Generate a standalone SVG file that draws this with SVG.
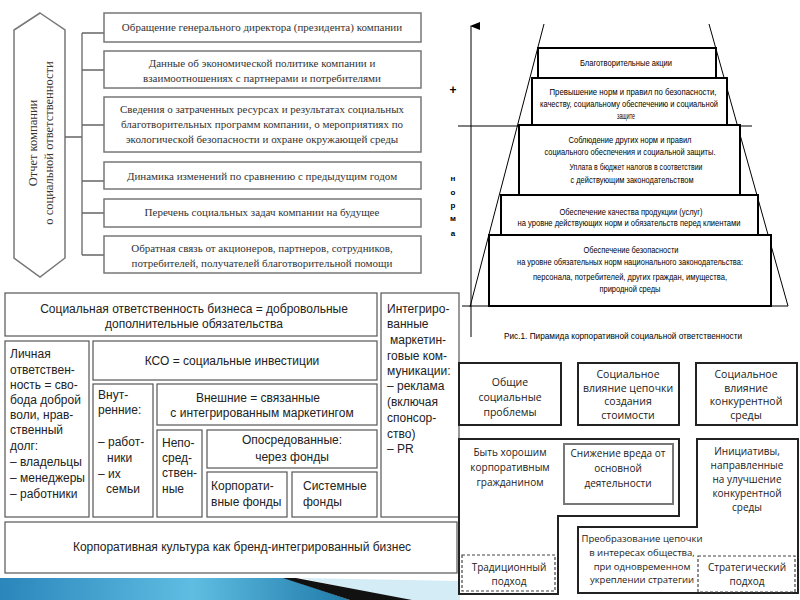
<svg xmlns="http://www.w3.org/2000/svg" width="800" height="600" viewBox="0 0 800 600">
<style>
.tl{fill:#fff;stroke:#777;stroke-width:1.5}
.tlt{font-family:"Liberation Serif",serif;font-size:11px;fill:#333;text-anchor:middle}
.hx{font-family:"Liberation Serif",serif;font-size:12.5px;fill:#333;text-anchor:middle}
.con{fill:none;stroke:#666;stroke-width:1.3}
.ml{fill:#fff;stroke:#555;stroke-width:1.2}
.mlt{font-family:"Liberation Sans",Arial,sans-serif;font-size:12px;fill:#222}
.mc{text-anchor:middle}
.py{fill:#fff;stroke:#000;stroke-width:2}
.pyl{fill:none;stroke:#000;stroke-width:1}
.pyt{font-family:"Liberation Sans",Arial,sans-serif;font-size:8.5px;fill:#000;text-anchor:middle}
.ax{font-family:"Liberation Sans",Arial,sans-serif;font-size:8px;font-weight:bold;fill:#000;text-anchor:middle}
.br{fill:#fff;stroke:#222;stroke-width:2}
.brt{font-family:"Open Sans","Noto Sans",sans-serif;font-size:10px;fill:#222;text-anchor:middle}
.big{font-size:10.5px}
.sm{font-size:9.5px}
.dash{fill:none;stroke:#444;stroke-width:1.2;stroke-dasharray:3,2}
</style>
<defs>
<marker id="arr" markerWidth="8" markerHeight="10" refX="4" refY="1" orient="auto" markerUnits="userSpaceOnUse">
<path d="M0,10 L4,0 L8,10 Z" fill="#000"/>
</marker>
<linearGradient id="sw" x1="0" y1="0" x2="1" y2="0">
<stop offset="0" stop-color="#2a86bb"/>
<stop offset="0.55" stop-color="#5fbde2"/>
<stop offset="1" stop-color="#1f7aa8"/>
</linearGradient>
</defs>
<rect width="800" height="600" fill="#fff"/>

<!-- Top-left: report structure -->
<g id="hexagon">
<polygon class="tl" points="40,13 65,30 65,258 40,277 14,258 14,30"/>
<text class="hx" transform="rotate(-90 36.5 143)" x="36.5" y="143">Отчет компании</text>
<text class="hx" transform="rotate(-90 52.5 143)" x="52.5" y="143">о социальной ответственности</text>
</g>
<g id="connectors-report">
<path class="con" d="M65,137 H82 M82,33 V255 M82,33 H104 M82,70 H104 M82,125 H104 M82,181 H104 M82,213 H104 M82,255 H104"/>
</g>
<g id="r1"><rect class="tl" x="104" y="13" width="317" height="29"/>
<text class="tlt" x="262" y="31">Обращение генерального директора (президента) компании</text></g>
<g id="r2"><rect class="tl" x="104" y="51" width="317" height="37"/>
<text class="tlt" x="262" y="67">Данные об экономической политике компании и</text>
<text class="tlt" x="262" y="82">взаимоотношениях с партнерами и потребителями</text></g>
<g id="r3"><rect class="tl" x="104" y="97" width="317" height="55"/>
<text class="tlt" x="262" y="113">Сведения о затраченных ресурсах и результатах социальных</text>
<text class="tlt" x="262" y="128">благотворительных программ компании, о мероприятиях по</text>
<text class="tlt" x="262" y="143">экологической безопасности и охране окружающей среды</text></g>
<g id="r4"><rect class="tl" x="104" y="162" width="317" height="27"/>
<text class="tlt" x="262" y="180">Динамика изменений по сравнению с предыдущим годом</text></g>
<g id="r5"><rect class="tl" x="104" y="199" width="317" height="28"/>
<text class="tlt" x="262" y="216">Перечень социальных задач компании на будущее</text></g>
<g id="r6"><rect class="tl" x="104" y="236" width="317" height="37"/>
<text class="tlt" x="262" y="252">Обратная связь от акционеров, партнеров, сотрудников,</text>
<text class="tlt" x="262" y="267">потребителей, получателей благотворительной помощи</text></g>

<!-- Top-right: pyramid -->
<g id="pyramid-axes">
<line class="pyl" x1="471" y1="337" x2="471" y2="26" marker-end="url(#arr)"/>
<line class="pyl" x1="458" y1="126" x2="752" y2="126" stroke-width="1.3"/>
<line class="pyl" x1="462" y1="306" x2="788" y2="306" stroke-width="1.3"/>
<line class="pyl" x1="544" y1="24" x2="470" y2="307"/>
<line class="pyl" x1="709" y1="24" x2="788" y2="306"/>
<text class="ax" x="453" y="94" style="font-size:12px">+</text>
<text class="ax" x="453" y="181">н</text>
<text class="ax" x="453" y="195">о</text>
<text class="ax" x="453" y="208">р</text>
<text class="ax" x="453" y="221">м</text>
<text class="ax" x="453" y="236">а</text>
</g>
<g id="p5"><rect class="py" x="489" y="235" width="282" height="71"/>
<text class="pyt" x="631" y="253" textLength="95" lengthAdjust="spacingAndGlyphs">Обеспечение безопасности</text>
<text class="pyt" x="630" y="265" textLength="226" lengthAdjust="spacingAndGlyphs">на уровне обязательных норм национального законодательства:</text>
<text class="pyt" x="630" y="280" textLength="194" lengthAdjust="spacingAndGlyphs">персонала, потребителей, других граждан, имущества,</text>
<text class="pyt" x="630" y="292" textLength="61" lengthAdjust="spacingAndGlyphs">природной среды</text></g>
<g id="p4"><rect class="py" x="501" y="195" width="257" height="40"/>
<text class="pyt" x="631" y="215" textLength="143" lengthAdjust="spacingAndGlyphs">Обеспечение качества продукции (услуг)</text>
<text class="pyt" x="629" y="226" textLength="223" lengthAdjust="spacingAndGlyphs">на уровне действующих норм и обязательств перед клиентами</text></g>
<g id="p3"><rect class="py" x="519" y="125" width="221" height="70"/>
<text class="pyt" x="630" y="143" textLength="123" lengthAdjust="spacingAndGlyphs">Соблюдение других норм и правил</text>
<text class="pyt" x="630" y="155" textLength="171" lengthAdjust="spacingAndGlyphs">социального обеспечения и социальной защиты.</text>
<text class="pyt" x="636" y="170" textLength="133" lengthAdjust="spacingAndGlyphs">Уплата в бюджет налогов в соответствии</text>
<text class="pyt" x="632" y="183" textLength="123" lengthAdjust="spacingAndGlyphs">с действующим законодательством</text></g>
<g id="p2"><rect class="py" x="532" y="78" width="195" height="47"/>
<text class="pyt" x="633" y="95" textLength="167" lengthAdjust="spacingAndGlyphs">Превышение норм и правил по безопасности,</text>
<text class="pyt" x="629" y="107" textLength="178" lengthAdjust="spacingAndGlyphs">качеству, социальному обеспечению и социальной</text>
<text class="pyt" x="626" y="119" textLength="18" lengthAdjust="spacingAndGlyphs">защите</text></g>
<g id="p1"><rect class="py" x="538" y="48" width="178" height="30"/>
<text class="pyt" x="626" y="66" textLength="92" lengthAdjust="spacingAndGlyphs">Благотворительные акции</text></g>
<text class="pyt" x="623" y="339" style="font-size:9.5px" textLength="238" lengthAdjust="spacingAndGlyphs">Рис.1. Пирамида корпоративной социальной ответственности</text>

<!-- Middle-left: CSR structure -->
<g id="m-top"><rect class="ml" x="5" y="293" width="372" height="43"/>
<text class="mlt mc" x="194" y="313">Социальная ответственность бизнеса = добровольные</text>
<text class="mlt mc" x="194" y="328">дополнительные обязательства</text></g>
<g id="m-personal"><rect class="ml" x="5" y="341" width="84" height="176"/>
<text class="mlt" x="10" y="358">Личная</text>
<text class="mlt" x="10" y="374">ответствен-</text>
<text class="mlt" x="10" y="389">ность = сво-</text>
<text class="mlt" x="10" y="404">бода доброй</text>
<text class="mlt" x="10" y="419">воли, нрав-</text>
<text class="mlt" x="10" y="434">ственный</text>
<text class="mlt" x="10" y="450">долг:</text>
<text class="mlt" x="10" y="466">– владельцы</text>
<text class="mlt" x="10" y="482">– менеджеры</text>
<text class="mlt" x="10" y="498">– работники</text></g>
<g id="m-kso"><rect class="ml" x="93" y="341" width="284" height="39"/>
<text class="mlt mc" x="232" y="365">КСО = социальные инвестиции</text></g>
<g id="m-internal"><rect class="ml" x="93" y="384" width="60" height="133"/>
<text class="mlt" x="98" y="399">Внут-</text>
<text class="mlt" x="98" y="414">ренние:</text>
<text class="mlt" x="98" y="446">– работ-</text>
<text class="mlt" x="107" y="462">ники</text>
<text class="mlt" x="98" y="478">– их</text>
<text class="mlt" x="106" y="493">семьи</text></g>
<g id="m-external"><rect class="ml" x="157" y="384" width="220" height="41"/>
<text class="mlt mc" x="258" y="402">Внешние = связанные</text>
<text class="mlt mc" x="262" y="417">с интегрированным маркетингом</text></g>
<g id="m-direct"><rect class="ml" x="157" y="430" width="45" height="87"/>
<text class="mlt" x="162" y="447">Непо-</text>
<text class="mlt" x="162" y="462">сред-</text>
<text class="mlt" x="162" y="477">ствен-</text>
<text class="mlt" x="162" y="493">ные</text></g>
<g id="m-mediated"><rect class="ml" x="207" y="430" width="170" height="38"/>
<text class="mlt mc" x="292" y="444">Опосредованные:</text>
<text class="mlt mc" x="292" y="461">через фонды</text></g>
<g id="m-corpfunds"><rect class="ml" x="207" y="472" width="80" height="45"/>
<text class="mlt" x="211" y="490">Корпорати-</text>
<text class="mlt" x="211" y="506">вные фонды</text></g>
<g id="m-sysfunds"><rect class="ml" x="292" y="472" width="85" height="45"/>
<text class="mlt" x="303" y="490">Системные</text>
<text class="mlt" x="303" y="506">фонды</text></g>
<g id="m-imc"><rect class="ml" x="381" y="293" width="78" height="224"/>
<text class="mlt" x="387" y="313">Интегриро-</text>
<text class="mlt" x="387" y="328">ванные</text>
<text class="mlt" x="390" y="344">маркетин-</text>
<text class="mlt" x="387" y="360">говые ком-</text>
<text class="mlt" x="387" y="375">муникации:</text>
<text class="mlt" x="387" y="390">– реклама</text>
<text class="mlt" x="387" y="406">(включая</text>
<text class="mlt" x="387" y="422">спонсор-</text>
<text class="mlt" x="387" y="438">ство)</text>
<text class="mlt" x="387" y="453">– PR</text></g>
<g id="m-culture"><rect class="ml" x="5" y="522" width="452" height="51"/>
<text class="mlt mc" x="242" y="551">Корпоративная культура как бренд-интегрированный бизнес</text></g>

<!-- Bottom decoration -->
<polygon points="300,578 460,581 460,600 405,600" fill="#d4ecf5"/>
<polygon points="0,578 285,578 350,600 0,600" fill="url(#sw)"/>
<polygon points="283,578 296,578 412,600 350,600" fill="#111"/>

<!-- Bottom-right: approaches -->
<g id="b-general"><rect class="br" x="459" y="363" width="102" height="62"/>
<text class="brt big" x="510" y="386">Общие</text>
<text class="brt big" x="510" y="401">социальные</text>
<text class="brt big" x="510" y="416">проблемы</text></g>
<g id="b-chain"><rect class="br" x="578" y="363" width="101" height="62"/>
<text class="brt big" x="628" y="378">Социальное</text>
<text class="brt big" x="628" y="392">влияние цепочки</text>
<text class="brt big" x="628" y="405">создания</text>
<text class="brt big" x="628" y="419">стоимости</text></g>
<g id="b-compet"><rect class="br" x="696" y="363" width="101" height="62"/>
<text class="brt big" x="746" y="378">Социальное</text>
<text class="brt big" x="746" y="392">влияние</text>
<text class="brt big" x="746" y="405">конкурентной</text>
<text class="brt big" x="746" y="419">среды</text></g>
<g id="b-traditional">
<polygon class="br" points="459,439 679,439 679,516 558,516 558,594 459,594"/>
<text class="brt" x="510" y="456">Быть хорошим</text>
<text class="brt" x="510" y="471">корпоративным</text>
<text class="brt" x="510" y="486">гражданином</text>
<rect class="dash" x="462" y="555" width="93" height="36"/>
<text class="brt" x="509" y="571">Традиционный</text>
<text class="brt" x="509" y="585">подход</text>
</g>
<g id="b-harm"><rect x="564" y="444" width="109" height="60" fill="#fff" stroke="#777" stroke-width="2"/>
<text class="brt" x="618" y="457">Снижение вреда от</text>
<text class="brt" x="618" y="472">основной</text>
<text class="brt" x="618" y="487">деятельности</text></g>
<g id="b-strategic">
<polygon class="br" points="697,439 798,439 798,593 578,593 578,527 697,527"/>
<text class="brt" x="747" y="455">Инициативы,</text>
<text class="brt" x="747" y="469">направленные</text>
<text class="brt" x="747" y="483">на улучшение</text>
<text class="brt" x="747" y="497">конкурентной</text>
<text class="brt" x="747" y="511">среды</text>
<text class="brt sm" x="642" y="542">Преобразование цепочки</text>
<text class="brt sm" x="642" y="556">в интересах общества,</text>
<text class="brt sm" x="642" y="570">при одновременном</text>
<text class="brt sm" x="642" y="583">укреплении стратегии</text>
<rect class="dash" x="698" y="556" width="97" height="36"/>
<text class="brt" x="747" y="571">Стратегический</text>
<text class="brt" x="747" y="585">подход</text>
</g>
</svg>
